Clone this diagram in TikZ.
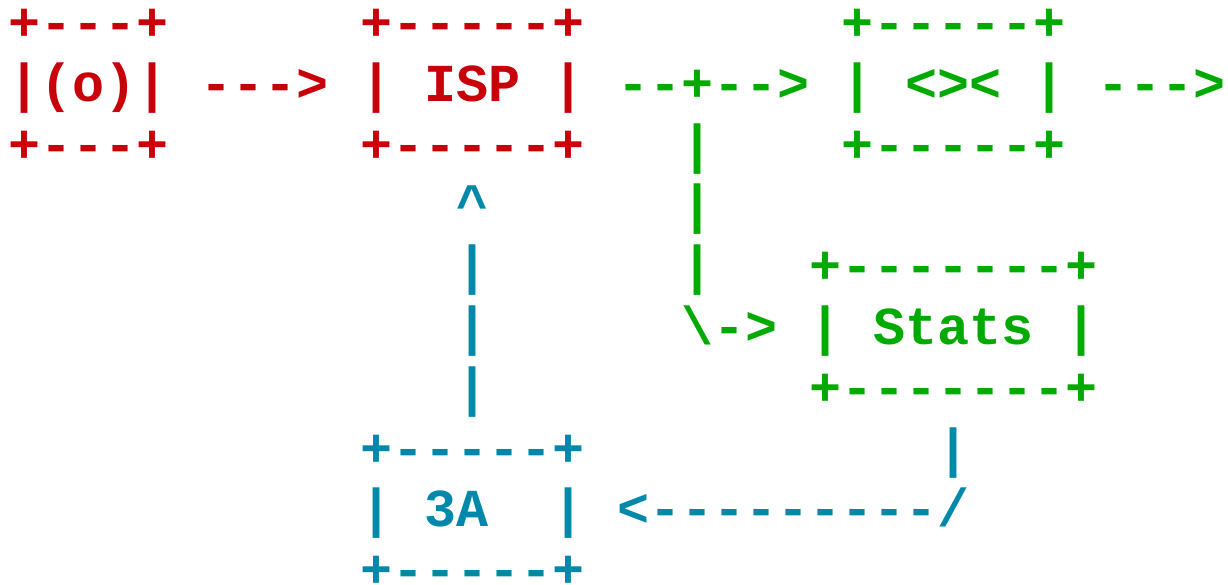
\documentclass[tikz,border=0pt]{standalone}
\usepackage{fontspec}
\setmonofont{Liberation Mono}
\definecolor{ared}{RGB}{200,0,10}
\definecolor{agreen}{RGB}{0,170,0}
\definecolor{ablue}{RGB}{0,136,170}
\begin{document}
\begin{tikzpicture}[x=1pt,y=-1pt,
  asc/.style={anchor=base west,inner sep=0pt,outer sep=0pt,
    font=\fontsize{53.4}{60.75}\selectfont\ttfamily\bfseries},
  cred/.style={asc,text=ared},
  cgreen/.style={asc,text=agreen},
  cblue/.style={asc,text=ablue}]
\useasboundingbox (0,0) rectangle (1228,585);
% red: antenna box, arrow, ISP box
\node[cred] (ant0) at ({8.1+32.05*0},{40.75+60.75*0}) {+---+};
\node[cred] (ant1) at ({8.1+32.05*0},{40.75+60.75*1}) {|(o)|};
\node[cred] (ant2) at ({8.1+32.05*0},{40.75+60.75*2}) {+---+};
\node[cred] (arr1) at ({8.1+32.05*6},{40.75+60.75*1}) {--->};
\node[cred] (isp0) at ({8.1+32.05*11},{40.75+60.75*0}) {+-----+};
\node[cred] (isp1) at ({8.1+32.05*11},{40.75+60.75*1}) {| ISP |};
\node[cred] (isp2) at ({8.1+32.05*11},{40.75+60.75*2}) {+-----+};
% green: split, fish box, stats box
\node[cgreen] (spl1) at ({8.1+32.05*19},{40.75+60.75*1}) {--+-->};
\node[cgreen] (fish0) at ({8.1+32.05*26},{40.75+60.75*0}) {+-----+};
\node[cgreen] (fish1) at ({8.1+32.05*26},{40.75+60.75*1}) {| <>< |};
\node[cgreen] (fish2) at ({8.1+32.05*26},{40.75+60.75*2}) {+-----+};
\node[cgreen] (out1) at ({8.1+32.05*34},{40.75+60.75*1}) {--->};
\node[cgreen] (v2) at ({8.1+32.05*21},{40.75+60.75*2}) {|};
\node[cgreen] (v3) at ({8.1+32.05*21},{40.75+60.75*3}) {|};
\node[cgreen] (v4) at ({8.1+32.05*21},{40.75+60.75*4}) {|};
\node[cgreen] (bend5) at ({8.1+32.05*21},{40.75+60.75*5}) {\textbackslash->};
\node[cgreen] (st0) at ({8.1+32.05*25},{40.75+60.75*4}) {+-------+};
\node[cgreen] (st1) at ({8.1+32.05*25},{40.75+60.75*5}) {| Stats |};
\node[cgreen] (st2) at ({8.1+32.05*25},{40.75+60.75*6}) {+-------+};
% blue: 3A box and feedback
\node[cblue] (up3) at ({8.1+32.05*14},{40.75+60.75*3}) {\textasciicircum};
\node[cblue] (u4) at ({8.1+32.05*14},{40.75+60.75*4}) {|};
\node[cblue] (u5) at ({8.1+32.05*14},{40.75+60.75*5}) {|};
\node[cblue] (u6) at ({8.1+32.05*14},{40.75+60.75*6}) {|};
\node[cblue] (aaa0) at ({8.1+32.05*11},{40.75+60.75*7}) {+-----+};
\node[cblue] (aaa1) at ({8.1+32.05*11},{40.75+60.75*8}) {| 3A};
\node[cblue] (aaa1r) at ({8.1+32.05*17},{40.75+60.75*8}) {|};
\node[cblue] (aaa2) at ({8.1+32.05*11},{40.75+60.75*9}) {+-----+};
\node[cblue] (d7) at ({8.1+32.05*29},{40.75+60.75*7}) {|};
\node[cblue] (back8) at ({8.1+32.05*19},{40.75+60.75*8}) {<---------/};
\end{tikzpicture}
\end{document}
